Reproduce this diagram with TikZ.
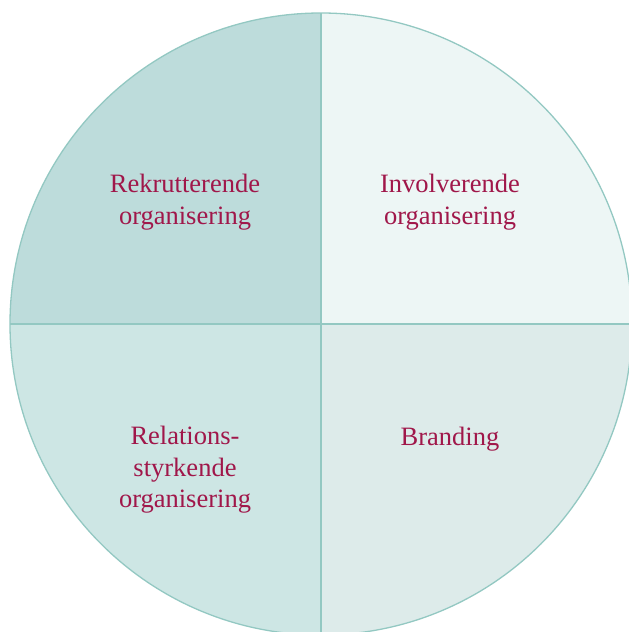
\documentclass[tikz,border=0pt]{standalone}
\usepackage{fontspec}
\setmainfont{Liberation Serif}
\definecolor{qtl}{HTML}{BDDCDB}
\definecolor{qtr}{HTML}{EDF6F5}
\definecolor{qbl}{HTML}{CDE6E4}
\definecolor{qbr}{HTML}{DDEBEA}
\definecolor{edge}{HTML}{93C8C2}
\definecolor{txt}{HTML}{A0174A}
\tikzset{
  lbl/.style={text=txt, align=center, font=\fontsize{26.5}{31.5}\selectfont, inner sep=0pt},
  rim/.style={draw=edge, line width=1.3pt}
}
\begin{document}
\begin{tikzpicture}[x=1pt,y=-1pt]
\useasboundingbox (0,0) rectangle (629,632);
\coordinate (c) at (321,324);
\begin{scope}
  \clip (0,0) rectangle (629,632);
  \begin{scope}
    \clip (c) circle[radius=311];
    \fill[qtl] (c) rectangle (0,0);
    \fill[qtr] (c) rectangle (700,0);
    \fill[qbl] (c) rectangle (0,700);
    \fill[qbr] (c) rectangle (700,700);
    \draw[rim] (321,0) -- (321,700);
    \draw[rim] (0,324) -- (700,324);
  \end{scope}
  \draw[rim] (c) circle[radius=311];
\end{scope}
\node[lbl] (rek) at (185,202) {Rekrutterende\\organisering};
\node[lbl] (inv) at (450,202) {Involverende\\organisering};
\node[lbl] (rel) at (185,470) {Relations-\\styrkende\\organisering};
\node[lbl] (bra) at (450,439) {Branding};
\end{tikzpicture}
\end{document}
